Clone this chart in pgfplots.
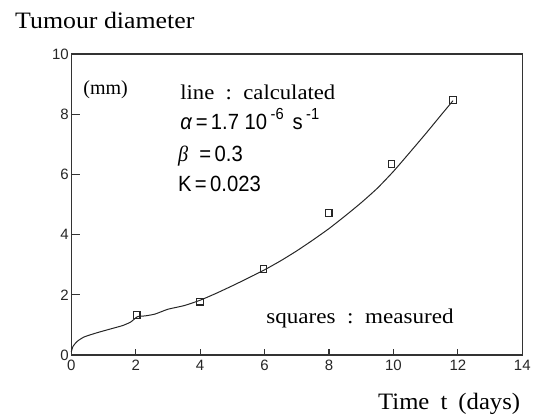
\documentclass[border=0pt]{standalone}
\usepackage{fontspec}
\setmainfont{Liberation Serif}
\newfontfamily\ticksf{Liberation Sans}
\usepackage{graphicx}
\usepackage{pgfplots}
\pgfplotsset{compat=1.18}

% calculated growth curve
\pgfplotstableread{
t d
0 0.1
0.05 0.28
0.18 0.45
0.4 0.6
0.8 0.74
1.2 0.86
1.6 0.98
1.85 1.1
2.05 1.27
2.3 1.3
2.6 1.36
3.0 1.52
3.5 1.64
4.0 1.82
4.5 2.05
5.0 2.3
5.5 2.56
6.0 2.83
6.5 3.13
7.0 3.46
7.5 3.82
8.0 4.2
8.5 4.62
9.0 5.06
9.5 5.54
10.0 6.1
10.5 6.72
11.0 7.35
11.5 8.0
11.85 8.45
}\calcdata

% measured diameters
\pgfplotstableread{
t d
2.03 1.33
4.0 1.77
5.97 2.85
7.99 4.71
9.94 6.35
11.85 8.47
}\measdata

\newcommand{\st}[1]{\scalebox{1.1}[1]{#1}}
\newcommand{\nr}[1]{\scalebox{0.92}[1]{#1}}

\begin{document}
\begin{tikzpicture}
\useasboundingbox (0,0) rectangle (542pt,419pt);
\begin{axis}[
  at={(71.3pt,64pt)}, anchor=south west,
  scale only axis, width=451pt, height=301pt,
  xmin=0, xmax=14, ymin=0, ymax=10,
  xtick={0,2,...,14}, ytick={0,2,...,10},
  tick align=inside, xtick pos=left, ytick pos=left,
  major tick length=9pt,
  xtick style={draw=none},
  ytick style={line width=1.1pt, black!80},
  axis line style={line width=1.5pt, black!80},
  ticklabel style={font=\ticksf\fontsize{15}{15}\selectfont, text=black!85},
  yticklabel style={xshift=1pt},
  xticklabel style={yshift=-2pt},
  /pgf/number format/assume math mode=true,
  clip=false,
]
% short x tick marks of the original
\addplot[ycomb, no marks, black!80, line width=1.2pt] coordinates {(2,0.2) (4,0.2) (6,0.2) (8,0.2) (10,0.2) (12,0.2)};
\addplot[black!85, line width=1pt, smooth, tension=0.35] table[x=t, y=d] {\calcdata};
\addplot[only marks, mark=square, mark size=3.3pt, black!85, line width=1.1pt] table[x=t, y=d] {\measdata};

\node[anchor=base west, inner sep=0] at (axis cs:0.37,8.64) {\fontsize{20}{20}\selectfont(mm)};
\node[anchor=base west, inner sep=0] at (axis cs:3.38,8.5) {\fontsize{21}{21}\selectfont\scalebox{1.08}[1]{line\ \ :\ \ calculated}};
\node[anchor=base west, inner sep=0] at (axis cs:3.38,7.48) {\ticksf\fontsize{22}{22}\selectfont\nr{\textit{α}\,=\,1.7 10\,\raisebox{0.45em}{\fontsize{16}{16}\selectfont -6}\, s\,\raisebox{0.45em}{\fontsize{16}{16}\selectfont -1}}};
\node[anchor=base west, inner sep=0] at (axis cs:3.31,6.42) {\ticksf\fontsize{22}{22}\selectfont\nr{{\rmfamily\itshape β}\ \ =\,0.3}};
\node[anchor=base west, inner sep=0] at (axis cs:3.31,5.43) {\ticksf\fontsize{22}{22}\selectfont\nr{K\,=\,0.023}};
\node[anchor=base west, inner sep=0] at (axis cs:6.05,1.05) {\fontsize{21}{21}\selectfont\st{squares\ \ :\ \ measured}};
\end{axis}
\node[anchor=base west, inner sep=0] at (15pt,390.5pt) {\fontsize{23.5}{23.5}\selectfont\st{Tumour diameter}};
\node[anchor=base west, inner sep=0] at (378pt,9pt) {\fontsize{23.5}{23.5}\selectfont\scalebox{1.05}[1]{Time\hspace{0.45em}t\hspace{0.45em}(days)}};
\end{tikzpicture}
\end{document}
